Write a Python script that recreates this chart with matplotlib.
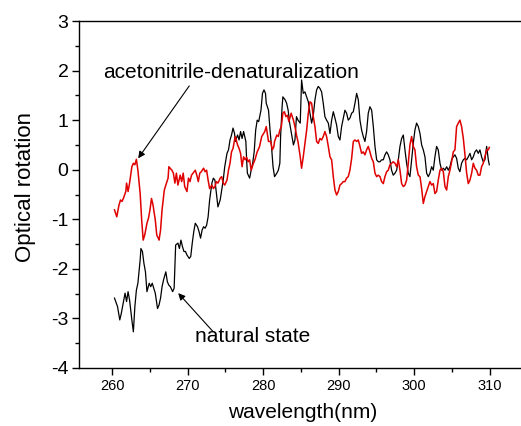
import matplotlib
matplotlib.use("Agg")
import matplotlib.pyplot as plt
from matplotlib.ticker import MultipleLocator

plt.rcParams['font.family'] = ['Liberation Sans', 'DejaVu Sans']
plt.rcParams['axes.unicode_minus'] = False

# ---------------- data ----------------
red_wl = [260.3, 260.6, 260.9, 261.1, 261.3, 261.5, 261.8, 261.9, 262.1, 262.3,
          262.6, 262.8, 263.0, 263.2, 263.4, 263.7, 263.9, 264.1, 264.3, 264.6,
          264.8, 265.0, 265.2, 265.4, 265.7, 265.9, 266.1, 266.2, 266.4, 266.6,
          266.9, 267.1, 267.4, 267.5, 267.9, 268.1, 268.3, 268.5, 268.7, 269.0,
          269.2, 269.4, 269.6, 269.9, 270.1, 270.3, 270.5, 270.7, 271.0, 271.2,
          271.4, 271.6, 271.8, 272.1, 272.3, 272.5, 272.7, 272.9, 273.2, 273.4,
          273.6, 273.8, 274.0, 274.3, 274.5, 274.7, 274.9, 275.2, 275.4, 275.6,
          275.8, 276.0, 276.2, 276.3, 276.6, 276.8, 277.0, 277.2, 277.4, 277.6,
          277.8, 278.0, 278.2, 278.4, 278.7, 278.9, 279.2, 279.5, 279.8, 280.2,
          280.4, 280.7, 281.0, 281.2, 281.4, 281.5, 281.8, 282.0, 282.2, 282.4,
          282.6, 282.8, 283.0, 283.2, 283.4, 283.7, 284.0, 284.2, 284.4, 284.6,
          284.9, 285.08, 285.30, 285.52, 285.75, 285.97, 286.19, 286.41, 286.63, 286.85,
          287.07, 287.29, 287.51, 287.73, 287.95, 288.17, 288.39, 288.62, 288.84, 289.06,
          289.28, 289.50, 289.72, 289.94, 290.16, 290.38, 290.60, 290.82, 291.04, 291.26,
          291.48, 291.71, 291.93, 292.15, 292.37, 292.59, 292.81, 293.03, 293.25, 293.47,
          293.69, 293.91, 294.13, 294.36, 294.58, 294.80, 295.02, 295.24, 295.46, 295.68,
          295.90, 296.12, 296.34, 296.56, 296.78, 297.00, 297.22, 297.45, 297.67, 297.89,
          298.11, 298.33, 298.55, 298.77, 298.99, 299.21, 299.43, 299.65, 299.87, 300.09,
          300.31, 300.54, 300.76, 300.98, 301.20, 301.42, 301.64, 301.86, 302.08, 302.30,
          302.52, 302.74, 302.96, 303.18, 303.41, 303.63, 303.85, 304.07, 304.29, 304.51,
          304.73, 304.95, 305.17, 305.39, 305.61, 305.83, 306.05, 306.27, 306.50, 306.72,
          306.94, 307.16, 307.38, 307.60, 307.82, 308.04, 308.26, 308.48, 308.70, 308.92,
          309.14, 309.36, 309.59, 309.81, 309.94]
red_val = [-0.81, -0.95, -0.71, -0.61, -0.64, -0.57, -0.44, -0.27, -0.44, -0.27,
           0.06, 0.13, 0.10, 0.21, -0.01, -0.48, -1.01, -1.42, -1.32, -1.08,
           -0.98, -0.81, -0.58, -0.71, -1.01, -1.32, -1.38, -1.42, -1.22, -0.81,
           -0.41, -0.31, -0.17, 0.06, -0.01, -0.07, -0.27, -0.07, -0.31, -0.11,
           -0.24, -0.07, -0.34, -0.44, -0.17, -0.24, -0.11, -0.07, -0.01, -0.11,
           -0.24, -0.07, -0.04, 0.03, -0.04, -0.01, -0.21, -0.38, -0.31, -0.38,
           -0.34, -0.24, -0.27, -0.17, -0.14, -0.27, -0.31, -0.21, -0.01, 0.13,
           0.36, 0.43, 0.60, 0.67, 0.50, 0.43, 0.33, 0.06, 0.26, 0.20,
           0.25, 0.16, 0.20, -0.01, 0.13, 0.20, 0.36, 0.46, 0.67, 0.77,
           0.87, 0.57, 0.57, 0.40, 0.46, 0.57, 0.70, 0.67, 0.80, 0.87,
           1.14, 1.17, 1.07, 1.10, 0.97, 1.14, 1.00, 0.87, 0.70, 0.57,
           0.26, 0.03, 0.26, 0.53, 0.80, 1.14, 1.37, 1.34, 1.07, 0.87,
           0.57, 0.53, 0.63, 0.60, 0.67, 0.77, 0.67, 0.47, 0.26, 0.20,
           -0.14, -0.41, -0.51, -0.44, -0.31, -0.28, -0.24, -0.24, -0.17, -0.14,
           -0.01, 0.23, 0.57, 0.60, 0.57, 0.60, 0.47, 0.33, 0.36, 0.30,
           0.40, 0.47, 0.36, 0.23, 0.16, -0.07, -0.14, -0.11, -0.14, -0.24,
           -0.28, -0.14, -0.04, -0.01, 0.10, 0.13, 0.16, 0.13, 0.06, 0.20,
           -0.01, -0.28, -0.34, -0.31, -0.21, 0.13, 0.50, 0.67, 0.47, 0.40,
           0.06, -0.11, -0.14, -0.38, -0.68, -0.54, -0.44, -0.34, -0.24, -0.31,
           -0.28, -0.48, -0.44, -0.21, -0.01, 0.03, -0.04, -0.34, -0.41, -0.14,
           -0.01, 0.16, 0.36, 0.40, 0.87, 0.94, 1.00, 0.87, 0.63, 0.30,
           -0.07, -0.28, -0.21, -0.07, 0.13, 0.03, -0.01, -0.11, -0.11, 0.06,
           0.13, 0.26, 0.40, 0.40, 0.45]

black_wl = [260.3, 260.7, 261.0, 261.2, 261.5, 261.7, 261.9, 262.1, 262.3, 262.6,
            262.8, 263.0, 263.2, 263.4, 263.7, 263.8, 264.0, 264.2, 264.4, 264.6,
            264.9, 265.1, 265.3, 265.5, 265.7, 266.0, 266.2, 266.4, 266.6, 266.8,
            267.1, 267.3, 267.5, 267.7, 268.0, 268.2, 268.3, 268.4, 268.7, 268.9,
            269.1, 269.3, 269.5, 269.7, 269.9, 270.2, 270.4, 270.6, 270.8, 271.0,
            271.3, 271.5, 271.7, 271.9, 272.1, 272.3, 272.5, 272.7, 272.9, 273.2,
            273.4, 273.6, 273.8, 274.0, 274.3, 274.5, 274.7, 274.9, 275.2, 275.4,
            275.6, 275.8, 276.0, 276.2, 276.3, 276.6, 276.8, 277.0, 277.2, 277.4,
            277.7, 277.8, 277.9, 278.2, 278.4, 278.6, 278.8, 279.0, 279.2, 279.4,
            279.7, 279.9, 280.1, 280.3, 280.4, 280.7, 280.9, 281.1, 281.3, 281.5,
            281.8, 282.0, 282.2, 282.3, 282.5, 282.6, 282.9, 283.1, 283.3, 283.5,
            283.8, 284.0, 284.2, 284.4, 284.6, 284.9, 285.08, 285.30, 285.52, 285.75,
            285.97, 286.19, 286.41, 286.63, 286.85, 287.07, 287.29, 287.51, 287.73, 287.95,
            288.17, 288.39, 288.62, 288.84, 289.06, 289.28, 289.50, 289.72, 289.94, 290.16,
            290.38, 290.60, 290.82, 291.04, 291.26, 291.48, 291.71, 291.93, 292.15, 292.37,
            292.59, 292.81, 293.03, 293.25, 293.47, 293.69, 293.91, 294.13, 294.36, 294.58,
            294.80, 295.02, 295.24, 295.46, 295.68, 295.90, 296.12, 296.34, 296.56, 296.78,
            297.00, 297.22, 297.45, 297.67, 297.89, 298.11, 298.33, 298.55, 298.77, 298.99,
            299.21, 299.43, 299.65, 299.87, 300.09, 300.31, 300.54, 300.76, 300.98, 301.20,
            301.42, 301.64, 301.86, 302.08, 302.30, 302.52, 302.74, 302.96, 303.18, 303.41,
            303.63, 303.85, 304.07, 304.29, 304.51, 304.73, 304.95, 305.17, 305.39, 305.61,
            305.83, 306.05, 306.27, 306.50, 306.72, 306.94, 307.16, 307.38, 307.60, 307.82,
            308.04, 308.26, 308.48, 308.70, 308.92, 309.14, 309.36, 309.59, 309.81, 309.94]
black_val = [-2.59, -2.76, -3.03, -2.90, -2.66, -2.49, -2.66, -2.46, -2.63, -3.03,
             -3.27, -2.76, -2.43, -2.29, -1.82, -1.59, -1.65, -1.89, -2.06, -2.46,
             -2.29, -2.36, -2.29, -2.39, -2.49, -2.80, -2.73, -2.59, -2.36, -2.22,
             -2.06, -2.26, -2.33, -2.36, -2.46, -2.39, -1.96, -1.52, -1.48, -1.59,
             -1.42, -1.55, -1.65, -1.65, -1.72, -1.79, -1.75, -1.48, -1.25, -1.08,
             -1.15, -1.25, -1.38, -1.22, -1.15, -1.18, -1.12, -0.95, -0.61, -0.27,
             -0.17, -0.21, -0.48, -0.75, -0.61, -0.41, -0.21, 0.06, 0.33, 0.40,
             0.60, 0.70, 0.84, 0.73, 0.57, 0.70, 0.60, 0.77, 0.63, 0.77,
             0.57, 0.20, -0.07, -0.17, -0.01, 0.13, 0.36, 0.80, 1.00, 0.97,
             1.20, 1.54, 1.61, 1.54, 1.34, 1.20, 0.80, 0.46, 0.06, -0.14,
             -0.07, -0.01, 0.13, 0.67, 1.27, 1.47, 1.41, 1.34, 1.20, 0.94,
             0.67, 0.50, 0.60, 1.07, 1.00, 0.94, 1.81, 1.54, 1.57, 1.47,
             1.37, 1.14, 0.94, 1.10, 1.41, 1.61, 1.68, 1.64, 1.57, 1.34,
             1.07, 1.00, 0.94, 0.73, 1.00, 1.17, 1.04, 0.90, 0.67, 0.60,
             0.87, 1.04, 1.20, 1.14, 1.00, 1.04, 1.14, 1.17, 1.34, 1.54,
             1.41, 1.00, 0.80, 0.67, 0.57, 0.77, 1.14, 1.27, 1.20, 0.87,
             0.47, 0.20, 0.16, 0.16, 0.20, 0.20, 0.30, 0.36, 0.30, 0.20,
             -0.01, -0.11, -0.07, -0.01, 0.20, 0.47, 0.63, 0.70, 0.40, 0.13,
             -0.07, -0.14, 0.20, 0.53, 0.80, 0.94, 0.87, 0.73, 0.50, 0.40,
             0.26, -0.07, -0.14, -0.07, 0.06, -0.01, 0.26, 0.47, 0.40, 0.13,
             -0.01, 0.03, -0.01, 0.06, -0.01, 0.06, 0.20, 0.26, 0.30, 0.23,
             0.03, -0.04, 0.13, 0.20, 0.23, 0.20, 0.26, 0.33, 0.20, 0.26,
             0.36, 0.40, 0.33, 0.40, 0.26, 0.16, 0.20, 0.47, 0.20, 0.10]

x_ticks = [260, 270, 280, 290, 300, 310]
y_ticks = [-4, -3, -2, -1, 0, 1, 2, 3]

label_red = "acetonitrile-denaturalization"
label_black = "natural state"

# ---------------- figure ----------------
W, H = 521, 426
fig = plt.figure(figsize=(W / 100, H / 100), dpi=100)
ax = fig.add_axes([79 / W, 58 / H, 448.5 / W, 347 / H])

ax.plot(black_wl, black_val, color='black', lw=0.9)
ax.plot(red_wl, red_val, color='#e00000', lw=1.1)

ax.set_xlim(255.6, 315.0)
ax.set_ylim(-4, 3)
ax.set_xticks(x_ticks)
ax.set_yticks(y_ticks)
ax.xaxis.set_minor_locator(MultipleLocator(5))
ax.yaxis.set_minor_locator(MultipleLocator(0.5))

for s in ax.spines.values():
    s.set_linewidth(1.0)

ax.tick_params(which='major', direction='out', length=5, width=1.0)
ax.tick_params(which='minor', direction='out', length=3, width=1.0)
ax.tick_params(axis='x', which='major', labelsize=10.5, pad=3)
ax.tick_params(axis='y', which='major', labelsize=14, pad=2.5)

fig.text(303 / W, 1 - 412 / H, "wavelength(nm)", fontsize=15,
         ha='center', va='center')
fig.text(26 / W, 1 - 187 / H, "Optical rotation", fontsize=16,
         ha='center', va='center', rotation=90)

# annotations
ax.text(258.77, 1.97, label_red, fontsize=15, ha='left', va='center')
ax.annotate('', xy=(263.44, 0.23), xytext=(270.2, 1.69),
            arrowprops=dict(arrowstyle='-|>', color='black', lw=0.8,
                            mutation_scale=10, shrinkA=0, shrinkB=0))
ax.text(270.95, -3.37, label_black, fontsize=15, ha='left', va='center')
ax.annotate('', xy=(268.74, -2.49), xytext=(273.38, -3.27),
            arrowprops=dict(arrowstyle='-|>', color='black', lw=0.8,
                            mutation_scale=10, shrinkA=0, shrinkB=0))

fig.savefig("out.png", dpi=100)
